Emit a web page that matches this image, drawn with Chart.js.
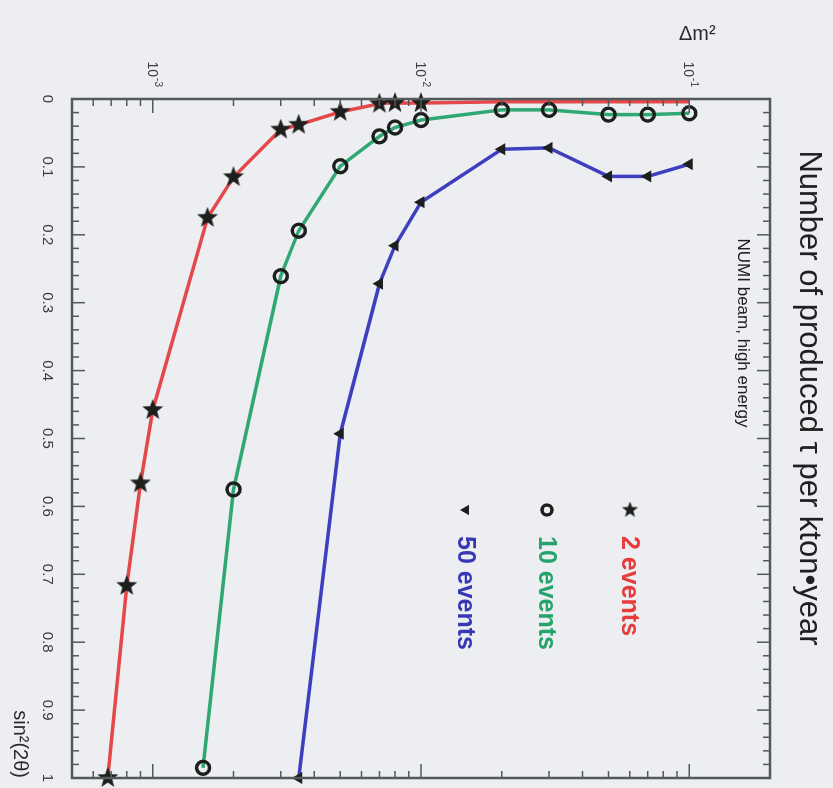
<!DOCTYPE html>
<html>
<head>
<meta charset="utf-8">
<script src="https://cdn.jsdelivr.net/npm/chart.js@4.4.1/dist/chart.umd.min.js"></script>
<style>
    html, body { margin: 0; padding: 0; background: #eceef2; overflow: hidden; }
    /* the whole ROOT page is shown turned a quarter turn clockwise */
    #wrap {
        position: absolute; left: 0; top: 0;
        width: 788px; height: 833px;
        transform-origin: 0 0;
        transform: translate(833px, 0) rotate(90deg);
    }
</style>
</head>
<body>
<div id="wrap"><canvas id="chart" width="788" height="833"></canvas></div>
<script>
// data: Δm² (eV²) and matching sin²(2θ) for each event count
const redDm2   = [6.8e-4, 8e-4, 9e-4, 1e-3, 1.6e-3, 2e-3, 3e-3, 3.5e-3, 5e-3, 7e-3, 8e-3, 1e-2, 2e-2, 3e-2, 5e-2, 7e-2, 1e-1];
const redSin   = [1.0, 0.717, 0.566, 0.458, 0.175, 0.115, 0.045, 0.038, 0.019, 0.007, 0.006, 0.006, 0.004, 0.004, 0.004, 0.004, 0.004];
const greenDm2 = [1.54e-3, 2e-3, 3e-3, 3.5e-3, 5e-3, 7e-3, 8e-3, 1e-2, 2e-2, 3e-2, 5e-2, 7e-2, 1e-1];
const greenSin = [0.985, 0.575, 0.261, 0.194, 0.099, 0.055, 0.042, 0.031, 0.016, 0.016, 0.023, 0.023, 0.021];
const blueDm2  = [3.5e-3, 5e-3, 7e-3, 8e-3, 1e-2, 2e-2, 3e-2, 5e-2, 7e-2, 1e-1];
const blueSin  = [1.0, 0.493, 0.272, 0.216, 0.152, 0.074, 0.072, 0.114, 0.114, 0.096];

const seriesNames = ['2 events', '10 events', '50 events'];

// tick labels
const sinTicks      = [0, 0.1, 0.2, 0.3, 0.4, 0.5, 0.6, 0.7, 0.8, 0.9, 1];
const sinTickLabels = ['0', '0.1', '0.2', '0.3', '0.4', '0.5', '0.6', '0.7', '0.8', '0.9', '1'];
const dmTicks       = [1e-3, 1e-2, 1e-1];
const dmTickExp     = ['-3', '-2', '-1'];

const FONT = '"Liberation Sans", Arial, Helvetica, sans-serif';
const MARK = '#1c1f1c';

// filled five-point star (ROOT marker 29)
function makeStar(size, color) {
    const c = document.createElement('canvas');
    c.width = c.height = size;
    const g = c.getContext('2d');
    const R = size / 2, r = R * 0.42;
    g.beginPath();
    for (let i = 0; i < 10; i++) {
        const a = -Math.PI / 2 + i * Math.PI / 5;
        const rr = i % 2 ? r : R;
        g.lineTo(R + rr * Math.cos(a), R + rr * Math.sin(a));
    }
    g.closePath();
    g.fillStyle = color;
    g.fill();
    return c;
}
const starImg = makeStar(22, MARK);
const starSmall = makeStar(17, MARK);

const toPoints = (dm, s) => dm.map((v, i) => ({ x: s[i], y: v }));

const styles = {
    red:   { line: '#e5484a', text: '#e63c3c', point: starImg, legendPoint: starSmall, rot: -90, r: 10, lr: 5, bw: 0, fill: MARK },
    green: { line: '#2fa873', text: '#25a36a', point: 'circle', rot: 0, r: 6.5, lr: 5, bw: 3.4, fill: 'rgba(0,0,0,0)' },
    blue:  { line: '#3d3fbf', text: '#3838b4', point: 'triangle', rot: 180, r: 7, lr: 6, bw: 0, fill: MARK },
};

function ds(label, pts, st, order, radius) {
    return {
        label, data: pts, order,
        borderColor: st.line, borderWidth: 3.5, tension: 0,
        pointStyle: st.point, pointRotation: st.rot, pointRadius: radius || st.r,
        pointBackgroundColor: st.fill, pointBorderColor: MARK, pointBorderWidth: st.bw,
        clip: false,
    };
}

// the 2-event stars above 1e-2 are not visible in the original
const redRadius = redDm2.map(v => (v > 0.011 ? 0 : styles.red.r));

// frame, inside ticks and all ROOT-style texts
const rootStyle = {
    id: 'rootStyle',
    afterDatasetsDraw(chart) {
        const { ctx, chartArea: a, scales: { x, y } } = chart;
        const seg = (x1, y1, x2, y2) => { ctx.beginPath(); ctx.moveTo(x1, y1); ctx.lineTo(x2, y2); ctx.stroke(); };
        ctx.save();
        ctx.strokeStyle = '#55585a';
        ctx.lineWidth = 1.5;
        for (let k = 0; k <= 50; k++) {
            const px = x.getPixelForValue(k / 50);
            const len = k % 5 === 0 ? 13 : 7;
            seg(px, a.bottom, px, a.bottom - len);
            seg(px, a.top, px, a.top + len);
        }
        for (let e = -4; e <= -1; e++) {
            for (let m = 1; m <= 9; m++) {
                const v = m * Math.pow(10, e);
                if (v < y.min * 0.999 || v > y.max * 1.001) continue;
                const py = y.getPixelForValue(v);
                const len = m === 1 ? 14 : 7;
                seg(a.left, py, a.left + len, py);
                seg(a.right, py, a.right - len, py);
            }
        }
        ctx.lineWidth = 2.5;
        ctx.strokeRect(a.left, a.top, a.right - a.left, a.bottom - a.top);
        ctx.restore();
    },
    afterDraw(chart) {
        const { ctx, chartArea: a, scales: { x, y } } = chart;
        ctx.save();
        ctx.fillStyle = '#3a3a3a';
        // sin²(2θ) tick labels
        ctx.font = '15px ' + FONT;
        ctx.textAlign = 'center';
        ctx.textBaseline = 'middle';
        sinTicks.forEach((v, i) => ctx.fillText(sinTickLabels[i], x.getPixelForValue(v), a.bottom + 25));
        // Δm² tick labels 10^n
        dmTicks.forEach((v, i) => {
            const py = y.getPixelForValue(v);
            ctx.font = '10px ' + FONT;
            ctx.textAlign = 'right';
            ctx.textBaseline = 'alphabetic';
            const ew = ctx.measureText(dmTickExp[i]).width;
            ctx.fillText(dmTickExp[i], a.left - 12, py - 2);
            ctx.font = '14px ' + FONT;
            ctx.fillText('10', a.left - 12 - ew - 1, py + 5);
        });
        // axis titles
        ctx.fillStyle = '#2a2a2a';
        ctx.font = '20px ' + FONT;
        ctx.textAlign = 'right';
        ctx.textBaseline = 'middle';
        ctx.fillText('sin²(2θ)', a.right, a.bottom + 52);
        ctx.save();
        ctx.translate(34, y.getPixelForValue(0.1) - 8);
        ctx.rotate(-Math.PI / 2);
        ctx.textAlign = 'center';
        ctx.fillText('Δm²', 0, 0);
        ctx.restore();
        // title and beam label
        ctx.textAlign = 'center';
        ctx.font = '31px ' + FONT;
        ctx.fillStyle = '#202020';
        ctx.fillText('Number of produced τ per kton•year', 398, 24);
        ctx.font = '17px ' + FONT;
        ctx.fillText('NUMI beam, high energy', 333, 90);
        // legend
        const rows = [
            { st: styles.red, y: 203 },
            { st: styles.green, y: 286 },
            { st: styles.blue, y: 367 },
        ];
        rows.forEach((row, i) => {
            const st = row.st;
            ctx.save();
            ctx.fillStyle = st.fill;
            ctx.strokeStyle = MARK;
            ctx.lineWidth = st.bw;
            Chart.helpers.drawPoint(ctx, {
                pointStyle: st.legendPoint || st.point, rotation: st.rot,
                radius: st.lr, borderWidth: st.bw,
            }, 510, row.y);
            ctx.restore();
            ctx.fillStyle = st.text;
            ctx.font = 'bold 25px ' + FONT;
            ctx.textAlign = 'left';
            ctx.textBaseline = 'middle';
            ctx.fillText(seriesNames[i], 536, row.y + 1);
        });
        ctx.restore();
    }
};

const chart = new Chart(document.getElementById('chart'), {
    type: 'line',
    data: {
        datasets: [
            ds(seriesNames[0], toPoints(redDm2, redSin), styles.red, 3, redRadius),
            ds(seriesNames[1], toPoints(greenDm2, greenSin), styles.green, 2),
            ds(seriesNames[2], toPoints(blueDm2, blueSin), styles.blue, 1),
        ]
    },
    options: {
        responsive: false,
        animation: false,
        layout: { padding: { left: 99, right: 4, top: 63, bottom: 72 } },
        scales: {
            x: { type: 'linear', min: 0, max: 1, display: false },
            y: { type: 'logarithmic', min: 5e-4, max: 0.2, display: false },
        },
        plugins: { legend: { display: false }, tooltip: { enabled: false } },
    },
    plugins: [rootStyle],
});
</script>
</body>
</html>
